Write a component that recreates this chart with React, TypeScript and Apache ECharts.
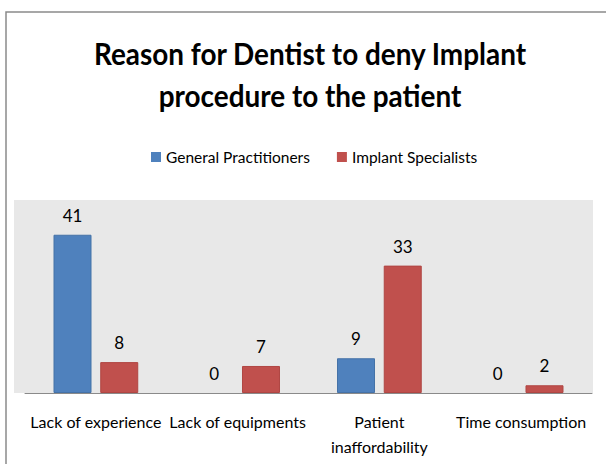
import React, { useEffect, useRef } from "react";
import * as echarts from "echarts";

const categories = ["Lack of experience", "Lack of equipments", "Patient\ninaffordability", "Time consumption"];
const generalPractitioners = [41, 0, 9, 0];
const implantSpecialists = [8, 7, 33, 2];
const titleLines = ["Reason for Dentist to deny Implant", "procedure to the patient"];
const seriesNames = ["General Practitioners", "Implant Specialists"];

const FONT = "Lato, 'Open Sans', sans-serif";

const toData = (arr: number[], border: string) =>
  arr.map((v) => ({
    value: v,
    itemStyle: { borderColor: border, borderWidth: v === 0 ? 0 : 1 },
  }));

export default function App() {
  const ref = useRef<HTMLDivElement>(null);
  useEffect(() => {
    document.body.style.margin = "0";
    const chart = echarts.init(ref.current!, undefined, { renderer: "svg" });
    const labelStyle = {
      show: true,
      position: "top",
      distance: 11,
      fontFamily: FONT,
      fontSize: 17,
      color: "#000000",
    };
    const titleStyle = (text: string) => ({
      text,
      fontFamily: FONT,
      fontWeight: "bold",
      fontSize: 31,
      fill: "#000000",
      textAlign: "center",
      textVerticalAlign: "middle",
    });
    chart.setOption({
      animation: false,
      backgroundColor: "#ffffff",
      textStyle: { fontFamily: FONT },
      graphic: [
        {
          type: "rect",
          z: -10,
          shape: { x: 6, y: 12, width: 700, height: 500 },
          style: { fill: "#ffffff", stroke: "#8a8a8a", lineWidth: 1.5 },
        },
        {
          type: "rect",
          z: -5,
          shape: { x: 14, y: 200, width: 579, height: 193 },
          style: { fill: "#e8e8e8" },
        },
        { type: "text", x: 310, y: 53, scaleX: 0.9, style: titleStyle(titleLines[0]) },
        { type: "text", x: 310, y: 95, scaleX: 0.9, style: titleStyle(titleLines[1]) },
      ],
      legend: {
        top: 149,
        left: 151,
        padding: 0,
        itemWidth: 10,
        itemHeight: 10,
        itemGap: 27,
        icon: "rect",
        textStyle: { fontFamily: FONT, fontSize: 15.5, color: "#000000" },
        data: seriesNames,
      },
      grid: { left: 25, right: 14, top: 200, bottom: 71, containLabel: false },
      xAxis: {
        type: "category",
        data: categories,
        axisLine: { show: true, lineStyle: { color: "#8a8a8a", width: 1 } },
        axisTick: { show: false },
        axisLabel: {
          interval: 0,
          margin: 16,
          fontFamily: FONT,
          fontSize: 16,
          lineHeight: 25,
          color: "#000000",
        },
      },
      yAxis: {
        type: "value",
        min: 0,
        max: 50,
        show: false,
        splitLine: { show: false },
      },
      series: [
        {
          name: seriesNames[0],
          type: "bar",
          data: toData(generalPractitioners, "#4572a7"),
          barWidth: 38,
          barGap: "23%",
          itemStyle: { color: "#4f81bd" },
          label: labelStyle,
        },
        {
          name: seriesNames[1],
          type: "bar",
          data: toData(implantSpecialists, "#b04643"),
          barWidth: 38,
          barGap: "23%",
          itemStyle: { color: "#c0504d" },
          label: labelStyle,
        },
      ],
    });
    return () => chart.dispose();
  }, []);
  return <div ref={ref} style={{ width: 606, height: 464 }} />;
}
